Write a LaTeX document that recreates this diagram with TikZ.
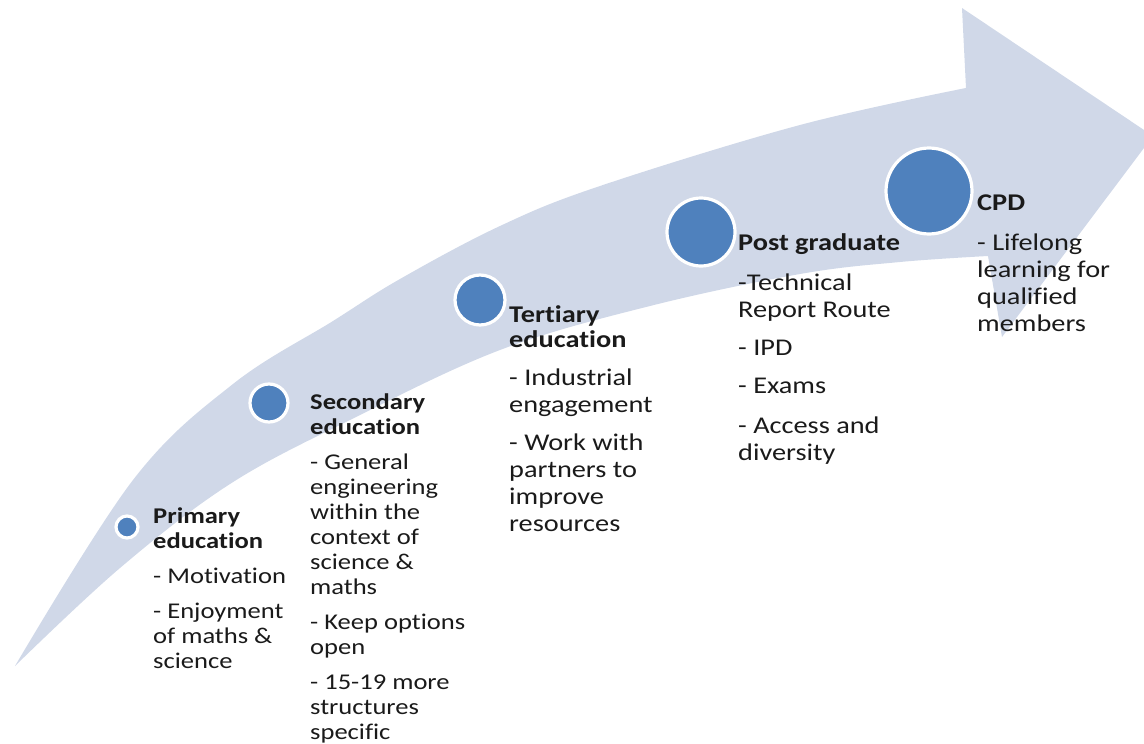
\documentclass[tikz,border=0pt]{standalone}
\usepackage{fontspec}
\setmainfont{Carlito}[FakeStretch=1.18, Ligatures=NoCommon]
\definecolor{arrowfill}{HTML}{D0D8E8}
\definecolor{accent}{HTML}{4F81BD}
\definecolor{txt}{HTML}{1A1A1A}
\tikzset{
  lbl/.style={anchor=base west, align=left, inner sep=0pt, text=txt},
  smalltxt/.style={font=\fontsize{22.5}{25}\selectfont},
  bigtxt/.style={font=\fontsize{24}{27}\selectfont},
  dot/.style={circle, fill=accent, draw=white, line width=3.2pt, inner sep=0pt},
}
\begin{document}
\begin{tikzpicture}[x=1pt,y=-1pt]
\useasboundingbox (0,0) rectangle (1144,744);
\clip (0,0) rectangle (1144,744);
% curved arrow
\fill[arrowfill] (15,666)
  -- plot[smooth, tension=0.6] coordinates {(15,666) (133,480) (233,384) (333,321) (400,279) (500,226) (600,186) (800,125) (966,88)}
  -- (962,8) -- (1153,136) -- (1002,337) -- (988,256)
  -- plot[smooth, tension=0.6] coordinates {(988,256) (900,262) (800,274) (650,306) (500,350) (350,420) (230,484) (120,568) (15,666)}
  -- cycle;
% stage markers
\node[dot, minimum size=22pt] (c1) at (127,527) {};
\node[dot, minimum size=38pt] (c2) at (269,403) {};
\node[dot, minimum size=50pt] (c3) at (480,300) {};
\node[dot, minimum size=68pt] (c4) at (701,232) {};
\node[dot, minimum size=86pt] (c5) at (929,191) {};
% texts (anchored at the baseline of their last line)
\node[lbl, smalltxt] (t1) at (153,668) {\textbf{Primary}\\\textbf{education}\\[10pt]- Motivation\\[10pt]- Enjoyment\\of maths \&\\science};
\node[lbl, smalltxt] (t2) at (310,739) {\textbf{Secondary}\\\textbf{education}\\[10pt]- General\\engineering\\within the\\context of\\science \&\\maths\\[10pt]- Keep options\\open\\[10pt]- 15-19 more\\structures\\specific};
\node[lbl, bigtxt] (t3) at (509,531) {\textbf{Tertiary}\\[-2pt]\textbf{education}\\[11pt]- Industrial\\engagement\\[11pt]- Work with\\partners to\\improve\\resources};
\node[lbl, bigtxt] (t4) at (738,460) {\textbf{Post graduate}\\[13pt]-Technical\\Report Route\\[11pt]- IPD\\[11pt]- Exams\\[13pt]- Access and\\diversity};
\node[lbl, bigtxt] (t5) at (977,331) {\textbf{CPD}\\[13pt]- Lifelong\\learning for\\qualified\\members};
\end{tikzpicture}
\end{document}
